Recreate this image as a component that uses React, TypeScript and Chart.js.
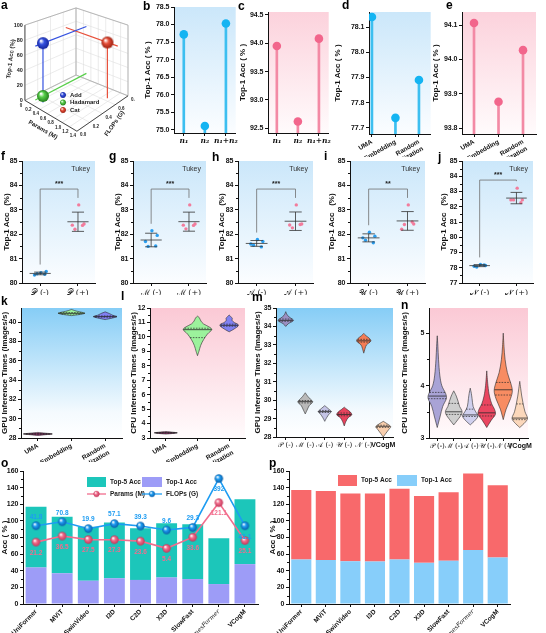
import React, { useEffect, useRef } from "react";
import { Chart, registerables } from "chart.js";

Chart.register(...registerables);

const SANS = "'Liberation Sans', Arial, sans-serif";
const SERIF = "'DejaVu Serif', 'Liberation Serif', serif";
const INK = "#111111";

// ---------- a: fusion strategies ----------
const fusionNames = ["Add", "Hadamard", "Cat"];
const fusionParams = [0.28, 0.28, 1.12];
const fusionFlops = [0.12, 0.12, 0.64];
const fusionAcc = [77.7, 8.5, 76.5];
const paramTicks3d = [0, 0.2, 0.4, 0.6, 0.8, 1.0, 1.2, 1.4];
const flopTicks3d = [0, 0.2, 0.4, 0.6, 0.8];
const accTicks3d = [0, 20, 40, 60, 80, 100];

// ---------- b, c: number of branches ----------
const branchLabels = ["n₁", "n₂", "n₁+n₂"];
const branchK = [77.72, 75.11, 78.03];
const branchS = [93.95, 92.62, 94.08];
const branchTicksK = [75.0, 75.5, 76.0, 76.5, 77.0, 77.5, 78.0, 78.5];
const branchTicksS = [92.5, 93.0, 93.5, 94.0, 94.5];

// ---------- d, e: initialisation ----------
const initLabels = ["UMA", "Embedding", ["Random", "Initialization"]];
const initK = [78.14, 77.74, 77.89];
const initS = [94.106, 93.877, 94.027];
const initTicksK = [77.7, 77.8, 77.9, 78.0, 78.1];
const initTicksS = [93.8, 93.9, 94.0, 94.1];

// ---------- f–j: module ablations (five runs each) ----------
const ablationNames = ["𝒫", "ℳ", "𝒜", "𝒰", "𝒩"];
const ablationWithout = [
  [80.42, 80.47, 80.33, 80.38, 80.36],
  [82.14, 81.95, 81.7, 81.5, 81.52],
  [81.78, 81.7, 81.6, 81.55, 81.48],
  [82.08, 81.92, 81.85, 81.75, 81.65],
  [78.22, 78.15, 78.1, 78.05, 78.18],
];
const ablationWith = [
  [83.2, 82.42, 82.37, 82.2, 82.36],
  [83.2, 82.42, 82.37, 82.22, 82.36],
  [83.2, 82.42, 82.38, 82.26, 82.4],
  [83.2, 82.42, 82.2, 82.4, 82.5],
  [83.22, 82.45, 82.45, 82.45, 82.27],
];
const ablationStars = ["***", "***", "***", "**", "***"];
const ablationBracket = [83.85, 83.85, 83.85, 83.85, 83.75];
const ablationTicks = [80, 81, 82, 83, 84, 85];
const ablationTicksJ = [77, 78, 79, 80, 81, 82, 83, 84, 85];

// ---------- k, l: inference speed per initialisation ----------
const speedInitLabels = ["UMA", "Embedding", ["Random", "Initialization"]];
const gpuInitShapes = [
  [[28.26, 0], [28.34, 0.5], [28.42, 0.95], [28.5, 0.5], [28.58, 0]],
  [[40.66, 0], [40.78, 0.55], [40.9, 0.88], [41.0, 0.7], [41.14, 0.3], [41.3, 0]],
  [[40.25, 0], [40.42, 0.5], [40.56, 0.78], [40.7, 0.5], [40.86, 0.3], [41.05, 0]],
];
const gpuInitQuartiles = [[28.39, 28.42, 28.45], [40.82, 40.9, 40.97], [40.5, 40.56, 40.63]];
const cpuInitShapes = [
  [[3.27, 0], [3.32, 0.55], [3.36, 0.8], [3.4, 0.5], [3.45, 0]],
  [[8.7, 0], [9.0, 0.1], [9.4, 0.22], [9.8, 0.42], [10.2, 0.7], [10.5, 1.0], [10.7, 0.8], [10.9, 0.42], [11.1, 0.24], [11.3, 0.14], [11.45, 0]],
  [[10.35, 0], [10.55, 0.35], [10.75, 0.63], [10.88, 0.6], [11.0, 0.35], [11.15, 0.2], [11.28, 0.22], [11.42, 0.1], [11.52, 0]],
];
const cpuInitQuartiles = [[3.34, 3.36, 3.38], [9.95, 10.5, 10.6], [10.74, 10.8, 10.88]];
const gpuInitTicks = [28, 30, 32, 34, 36, 38, 40];
const cpuInitTicks = [3, 4, 5, 6, 7, 8, 9, 10, 11, 12];

// ---------- m, n: inference speed per ablation ----------
const speedAblLabels = ["𝒫 (-)", "ℳ (-)", "𝒜 (-)", "𝒰 (-)", "𝒩 (-)", "VCogM"];
const gpuAblShapes = [
  [[34.0, 0], [34.15, 0.3], [34.28, 0.8], [34.36, 0.85], [34.46, 0.55], [34.6, 0.2], [34.8, 0]],
  [[29.25, 0], [29.45, 0.2], [29.7, 0.45], [29.9, 0.85], [30.05, 0.6], [30.2, 0.3], [30.4, 0]],
  [[28.85, 0], [29.05, 0.22], [29.25, 0.5], [29.38, 0.75], [29.52, 0.45], [29.7, 0]],
  [[28.6, 0], [28.85, 0.2], [29.05, 0.45], [29.2, 0.85], [29.35, 0.7], [29.5, 0.3], [29.62, 0]],
  [[32.55, 0], [32.8, 0.15], [33.0, 0.32], [33.2, 0.8], [33.35, 0.65], [33.5, 0.25], [33.62, 0]],
  [[28.0, 0], [28.2, 0.3], [28.42, 0.65], [28.56, 0.85], [28.7, 0.5], [28.85, 0]],
];
const gpuAblQuartiles = [
  [34.28, 34.33, 34.4], [29.85, 29.92, 29.98], [29.33, 29.38, 29.44],
  [29.15, 29.22, 29.3], [33.15, 33.22, 33.3], [28.52, 28.58, 28.64],
];
const cpuAblShapes = [
  [[3.2, 0], [3.4, 0.3], [3.6, 0.6], [3.75, 1], [3.85, 0.92], [4.0, 0.5], [4.2, 0.28], [4.5, 0.14], [4.75, 0.07], [4.95, 0]],
  [[3.25, 0], [3.35, 0.45], [3.45, 0.85], [3.52, 0.9], [3.6, 0.65], [3.7, 0.48], [3.8, 0.28], [3.9, 0]],
  [[3.25, 0], [3.34, 0.55], [3.42, 0.85], [3.5, 0.6], [3.6, 0.32], [3.75, 0.2], [3.85, 0.12], [3.95, 0]],
  [[3.2, 0], [3.34, 0.5], [3.45, 0.95], [3.55, 0.85], [3.65, 0.55], [3.8, 0.3], [4.0, 0.13], [4.28, 0]],
  [[3.35, 0], [3.55, 0.32], [3.75, 0.8], [3.9, 1], [4.05, 0.82], [4.25, 0.45], [4.5, 0.2], [4.75, 0.08], [5.0, 0]],
  [[3.2, 0], [3.3, 0.6], [3.38, 0.85], [3.5, 0.58], [3.65, 0.38], [3.8, 0.22], [3.95, 0.1], [4.08, 0]],
];
const cpuAblQuartiles = [
  [3.75, 3.8, 3.87], [3.45, 3.5, 3.66], [3.41, 3.44, 3.55],
  [3.42, 3.48, 3.63], [3.82, 3.92, 4.06], [3.35, 3.38, 3.65],
];
const gpuAblTicks = [28, 29, 30, 31, 32, 33, 34, 35];
const cpuAblTicks = [3, 4, 5];

// ---------- o, p: comparison with video backbones ----------
const models = ["UniFormer", "MViT", "SwinVideo", "I3D", "C2D", "X3D", "SlowFast", "TimesFormer", "VCogM"];
const oTop1 = [44, 37, 28, 31, 29, 32, 30, 24, 48];
const oTop5 = [73, 68, 65, 67, 62, 65, 66, 55, 78];
const oParams = [21.2, 36.5, 27.5, 27.3, 23.6, 5.4, 33.6, 121.1, 25.1];
const oFlops = [41.8, 70.8, 19.9, 57.1, 39.3, 9.6, 29.3, 392, 41.1];
const pTop1 = [53.5, 53, 51.5, 51, 53.5, 49.5, 52, 65, 56];
const pTop5 = [83.5, 83, 81.5, 82, 85, 80.5, 82.5, 92, 87];
const accTicksOP = [0, 20, 40, 60, 80, 100, 120, 140, 160];

// ---------- colours ----------
const BLUE_BG = [[0, "#cbe7fa"], [1, "#fbfdff"]];
const PINK_BG = [[0, "#fcd2dc"], [1, "#fffbfc"]];
const DEEP_BLUE_BG = [[0, "#86cdf6"], [0.8, "#f4fafe"], [1, "#ffffff"]];
const DEEP_PINK_BG = [[0, "#fbc9d5"], [1, "#fffbfc"]];
const initViolinColors = ["#b2357f", "#9cf29c", "#8181f2"];
const gpuAblColors = ["#9a8fc2", "#b9b9b9", "#c4c4e6", "#e8435d", "#f47c55", "#f9cfae"];
const cpuAblColors = ["#a9a3d6", "#cfcfcf", "#d0d0ee", "#ea4660", "#f88c62", "#fbd7bb"];

// ---------- shared helpers ----------
const areaBg = {
  id: "areaBg",
  beforeDraw(chart: any, _a: any, opts: any) {
    if (!opts || !opts.colors) return;
    const { ctx, chartArea: a } = chart;
    const g = ctx.createLinearGradient(0, a.top, 0, a.bottom);
    opts.colors.forEach(([s, c]: any) => g.addColorStop(s, c));
    ctx.save();
    ctx.fillStyle = g;
    ctx.fillRect(a.left, a.top, a.right - a.left, a.bottom - a.top);
    ctx.restore();
  },
};

// short unlabelled ticks halfway between the labelled ones on the value axis
const minorTicks = {
  id: "minorTicks",
  afterDraw(chart: any, _a: any, opts: any) {
    if (!opts || !opts.on) return;
    const y = chart.scales.y;
    if (!y) return;
    const { ctx } = chart;
    const vals = y.ticks.map((t: any) => t.value);
    ctx.save();
    ctx.strokeStyle = INK;
    ctx.lineWidth = 1;
    for (let i = 0; i < vals.length - 1; i++) {
      const py = Math.round(y.getPixelForValue((vals[i] + vals[i + 1]) / 2)) + 0.5;
      ctx.beginPath();
      ctx.moveTo(y.right - 2, py);
      ctx.lineTo(y.right, py);
      ctx.stroke();
    }
    ctx.restore();
  },
};
Chart.register(areaBg, minorTicks);

type Rect = [number, number, number, number];
type Area = [number, number, number, number];

function frame(rect: Rect, area: Area) {
  const [cl, ct, cw, ch] = rect;
  const [al, at, ar, ab] = area;
  return {
    padding: { left: 0, top: at - ct, right: cl + cw - ar, bottom: 0 },
    yWidth: al - cl,
    xHeight: ct + ch - ab,
  };
}

const tickFont = { family: SANS, size: 7, weight: "bold" };
const titleFont = { family: SANS, size: 8, weight: "bold" };

function axisLook() {
  return {
    border: { display: true, color: INK, width: 1 },
    grid: { drawOnChartArea: false, drawTicks: true, tickLength: 3, color: INK, offset: false },
  };
}

function yAxis(fr: any, tickVals: number[], min: number, max: number, digits: number, title: string, titlePad: number) {
  return {
    type: "linear",
    min,
    max,
    ...axisLook(),
    afterBuildTicks: (s: any) => {
      s.ticks = tickVals.map((value) => ({ value }));
    },
    ticks: { color: INK, font: tickFont, padding: 1.5, callback: (v: any) => Number(v).toFixed(digits) },
    title: { display: true, text: title, color: INK, font: titleFont, padding: { top: titlePad, bottom: 0 } },
    afterFit: (s: any) => {
      s.width = fr.yWidth;
      s.paddingTop = 0;
      s.paddingBottom = 0;
    },
  };
}

function xFit(fr: any) {
  return (s: any) => {
    s.height = fr.xHeight;
    s.paddingLeft = 0;
    s.paddingRight = 0;
  };
}

const baseOptions = (fr: any, bg: any, extra: any = {}, minor = false) => ({
  animation: false,
  responsive: false,
  layout: { padding: fr.padding },
  plugins: {
    legend: { display: false },
    tooltip: { enabled: false },
    areaBg: { colors: bg },
    minorTicks: { on: minor },
    ...extra,
  },
});

function sphere(color: string, dark: string, r: number) {
  const c = document.createElement("canvas");
  const s = Math.ceil(r * 2 + 2);
  c.width = s;
  c.height = s;
  const g = c.getContext("2d")!;
  const m = s / 2;
  const grad = g.createRadialGradient(m - r * 0.35, m - r * 0.4, r * 0.08, m, m, r);
  grad.addColorStop(0, "#ffffff");
  grad.addColorStop(0.4, color);
  grad.addColorStop(1, dark);
  g.fillStyle = grad;
  g.beginPath();
  g.arc(m, m, r, 0, Math.PI * 2);
  g.fill();
  return c;
}

// ---------- a: 3-D scatter built on a pixel-space scatter chart ----------
const FLOOR = [[20, 103], [78, 137], [135, 98], [77, 75]];
const CEIL = [[20, 20], [78, 40], [135, 20], [77, 1]];
const P_MAX = 1.4;
const F_MAX = 0.8;
const A_MAX = 100;
const FUSION_COLORS = ["#3552e0", "#58cf4a", "#e8503a"];
const FUSION_DARK = ["#16259a", "#247d1c", "#992010"];
const FUSION_GUIDE = ["f", "f", "p"];
const FUSION_DROP = [true, false, true];

function project(p: number, f: number, a: number) {
  const u = p / P_MAX;
  const v = f / F_MAX;
  const w = a / A_MAX;
  const bil = (c: number[][]) =>
    [0, 1].map((k) => (1 - u) * (1 - v) * c[0][k] + u * (1 - v) * c[1][k] + u * v * c[2][k] + (1 - u) * v * c[3][k]);
  const lo = bil(FLOOR);
  const hi = bil(CEIL);
  return { x: lo[0] + (hi[0] - lo[0]) * w, y: lo[1] + (hi[1] - lo[1]) * w };
}

const frame3d = {
  id: "frame3d",
  beforeDatasetsDraw(chart: any) {
    const { ctx, scales } = chart;
    const P = (p: number, f: number, a: number) => {
      const q = project(p, f, a);
      return [scales.x.getPixelForValue(q.x), scales.y.getPixelForValue(q.y)];
    };
    const seg = (a: number[], b: number[], color: string, w: number) => {
      ctx.strokeStyle = color;
      ctx.lineWidth = w;
      ctx.beginPath();
      ctx.moveTo(a[0], a[1]);
      ctx.lineTo(b[0], b[1]);
      ctx.stroke();
    };
    ctx.save();
    const grid = "#dedede";
    accTicks3d.forEach((a) => {
      seg(P(0, 0, a), P(0, F_MAX, a), grid, 0.6);
      seg(P(0, F_MAX, a), P(P_MAX, F_MAX, a), grid, 0.6);
    });
    flopTicks3d.forEach((f) => {
      seg(P(0, f, 0), P(0, f, A_MAX), grid, 0.6);
      seg(P(0, f, 0), P(P_MAX, f, 0), grid, 0.6);
    });
    paramTicks3d.forEach((p) => {
      seg(P(p, F_MAX, 0), P(p, F_MAX, A_MAX), grid, 0.6);
      seg(P(p, 0, 0), P(p, F_MAX, 0), grid, 0.6);
    });
    const edge = "#a8a8a8";
    seg(P(0, F_MAX, 0), P(0, F_MAX, A_MAX), edge, 0.8);
    seg(P(P_MAX, F_MAX, 0), P(P_MAX, F_MAX, A_MAX), edge, 0.8);
    seg(P(0, 0, A_MAX), P(0, F_MAX, A_MAX), edge, 0.8);
    seg(P(0, F_MAX, A_MAX), P(P_MAX, F_MAX, A_MAX), edge, 0.8);
    seg(P(0, 0, 0), P(0, F_MAX, 0), edge, 0.8);
    seg(P(0, F_MAX, 0), P(P_MAX, F_MAX, 0), edge, 0.8);
    seg(P(0, 0, 0), P(0, 0, A_MAX), "#333", 0.9);
    seg(P(0, 0, 0), P(P_MAX, 0, 0), "#333", 0.9);
    seg(P(P_MAX, 0, 0), P(P_MAX, F_MAX, 0), "#333", 0.9);

    ctx.fillStyle = "#222";
    ctx.font = `bold 5.5px ${SANS}`;
    ctx.textAlign = "right";
    ctx.textBaseline = "middle";
    accTicks3d.forEach((a) => {
      const q = P(0, 0, a);
      ctx.fillText(String(a), q[0] - 2, q[1]);
    });
    ctx.font = `bold 4.5px ${SANS}`;
    ctx.textAlign = "center";
    paramTicks3d.forEach((p) => {
      const q = P(p, 0, 0);
      ctx.fillText(p === 0 ? "0" : p.toFixed(1), q[0] - 4, q[1] + 5);
    });
    ctx.textAlign = "left";
    flopTicks3d.forEach((f) => {
      const q = P(P_MAX, f, 0);
      ctx.fillText(f.toFixed(1), q[0] + 3, q[1] + 4);
    });
    ctx.font = `bold 6px ${SANS}`;
    ctx.textAlign = "center";
    const title = (t: string, x: number, y: number, rot: number) => {
      ctx.save();
      ctx.translate(x, y);
      ctx.rotate(rot);
      ctx.fillText(t, 0, 0);
      ctx.restore();
    };
    const l = P(0, 0, A_MAX * 0.55);
    title("Top-1 Acc (%)", l[0] - 14, l[1], -Math.PI / 2 + 0.12);
    const pm = P(P_MAX * 0.5, 0, 0);
    title("Params (M)", pm[0] - 8, pm[1] + 14, 0.52);
    const fm = P(P_MAX, F_MAX * 0.5, 0);
    title("FLOPs (G)", fm[0] + 12, fm[1] + 10, -0.95);
    ctx.restore();
  },
  afterDraw(chart: any, _a: any, opts: any) {
    const { ctx } = chart;
    ctx.save();
    ctx.font = `bold 6px ${SANS}`;
    ctx.fillStyle = "#222";
    ctx.textBaseline = "middle";
    ctx.textAlign = "left";
    fusionNames.forEach((name, i) => {
      const y = opts.legendY + i * 7.5;
      const img = opts.balls[i];
      ctx.drawImage(img, opts.legendX - 3.5, y - 3.5, 7, 7);
      ctx.fillText(name, opts.legendX + 7, y);
    });
    ctx.restore();
  },
};

function fusionChart() {
  const balls = fusionNames.map((_, i) => sphere(FUSION_COLORS[i], FUSION_DARK[i], 6));
  const sets: any[] = [];
  fusionNames.forEach((_, i) => {
    const p = fusionParams[i];
    const f = fusionFlops[i];
    const a = fusionAcc[i];
    const along = FUSION_GUIDE[i] === "f" ? [project(p, 0, a), project(p, F_MAX, a)] : [project(0, f, a), project(P_MAX, f, a)];
    sets.push({ data: along, showLine: true, borderColor: FUSION_COLORS[i], borderWidth: 1.2, pointRadius: 0, order: 2 });
    if (FUSION_DROP[i]) {
      sets.push({ data: [project(p, f, 0), project(p, f, a)], showLine: true, borderColor: FUSION_COLORS[i], borderWidth: 1.2, pointRadius: 0, order: 2 });
    }
  });
  fusionNames.forEach((_, i) => {
    sets.push({ data: [project(fusionParams[i], fusionFlops[i], fusionAcc[i])], pointStyle: balls[i], pointRadius: 6, order: 0 });
  });
  return {
    type: "scatter",
    data: { datasets: sets },
    options: {
      animation: false,
      responsive: false,
      layout: { padding: 0 },
      plugins: { legend: { display: false }, tooltip: { enabled: false }, frame3d: { balls, legendX: 63, legendY: 95 } },
      scales: {
        x: { type: "linear", min: 0, max: 135, display: false },
        y: { type: "linear", min: 0, max: 150, reverse: true, display: false },
      },
    },
    plugins: [frame3d],
  };
}

// ---------- b–e: lollipop panels ----------
function lollipopChart(rect: Rect, area: Area, o: any) {
  const fr = frame(rect, area);
  const pts = o.values.map((y: number, x: number) => ({ x, y }));
  return {
    type: "scatter",
    data: {
      datasets: [
        { type: "scatter", data: pts, pointRadius: 4.3, pointBackgroundColor: o.dot, pointBorderWidth: 0, order: 0 },
        { type: "bar", data: pts, backgroundColor: o.stem, barThickness: 2, order: 1 },
      ],
    },
    options: {
      ...baseOptions(fr, o.bg),
      scales: {
        x: {
          type: "linear",
          min: o.xMin,
          max: o.xMax,
          offset: false,
          ...axisLook(),
          afterBuildTicks: (s: any) => {
            s.ticks = o.labels.map((_: any, i: number) => ({ value: i }));
          },
          ticks: {
            color: INK,
            font: o.xFont,
            padding: 1,
            autoSkip: false,
            minRotation: o.rotate,
            maxRotation: o.rotate,
            callback: (v: any) => o.labels[v],
          },
          afterFit: xFit(fr),
        },
        y: yAxis(fr, o.ticks, o.min, o.max, 1, "Top-1 Acc ( % )", o.titlePad),
      },
    },
  };
}

// ---------- f–j: mean ± SD with Tukey bracket ----------
const JITTER = [0.02, 0.16, -0.15, -0.08, 0.12];
const meanOf = (v: number[]) => v.reduce((s, x) => s + x, 0) / v.length;
const sdOf = (v: number[]) => {
  const m = meanOf(v);
  return Math.sqrt(v.reduce((s, x) => s + (x - m) * (x - m), 0) / (v.length - 1));
};

const tukeyPlugin = {
  id: "tukey",
  afterDatasetsDraw(chart: any, _a: any, opts: any) {
    const { ctx, scales, chartArea } = chart;
    const { x, y } = scales;
    const line = (x0: number, y0: number, x1: number, y1: number) => {
      ctx.beginPath();
      ctx.moveTo(x0, y0);
      ctx.lineTo(x1, y1);
      ctx.stroke();
    };
    ctx.save();
    ctx.strokeStyle = "#333";
    ctx.lineWidth = 0.8;
    const tops: number[] = [];
    chart.data.datasets.forEach((ds: any, g: number) => {
      const vals = ds.data.map((p: any) => p.y);
      const m = meanOf(vals);
      const sd = sdOf(vals);
      const cx = x.getPixelForValue(g);
      const half = x.getPixelForValue(g + 0.28) - cx;
      const cap = x.getPixelForValue(g + 0.16) - cx;
      const ym = y.getPixelForValue(m);
      const yt = y.getPixelForValue(m + sd);
      const yb = y.getPixelForValue(m - sd);
      line(cx - half, ym, cx + half, ym);
      line(cx, yt, cx, yb);
      line(cx - cap, yt, cx + cap, yt);
      line(cx - cap, yb, cx + cap, yb);
      tops.push(Math.min(yt, y.getPixelForValue(Math.max(...vals))));
    });
    const by = y.getPixelForValue(opts.bracketY);
    const x0 = x.getPixelForValue(0);
    const x1 = x.getPixelForValue(1);
    ctx.strokeStyle = "#6f6f6f";
    ctx.beginPath();
    ctx.moveTo(x0, tops[0] - 7);
    ctx.lineTo(x0, by);
    ctx.lineTo(x1, by);
    ctx.lineTo(x1, tops[1] - 7);
    ctx.stroke();
    ctx.fillStyle = "#222";
    ctx.font = `bold 7px ${SANS}`;
    ctx.textAlign = "center";
    ctx.textBaseline = "bottom";
    ctx.fillText(opts.stars, (x0 + x1) / 2, by - 1.5);
    ctx.font = `7px ${SANS}`;
    ctx.textAlign = "right";
    ctx.textBaseline = "middle";
    ctx.fillStyle = "#333";
    ctx.fillText("Tukey", chartArea.right - 5, chartArea.top + 8);
    ctx.restore();
  },
};

function tukeyChart(rect: Rect, area: Area, k: number, ticks: number[], titlePad: number) {
  const fr = frame(rect, area);
  const groups = [ablationWithout[k], ablationWith[k]];
  const name = ablationNames[k];
  return {
    type: "scatter",
    data: {
      datasets: groups.map((vals, g) => ({
        data: vals.map((v, i) => ({ x: g + JITTER[i], y: v })),
        pointRadius: 1.7,
        pointBorderWidth: 0,
        pointBackgroundColor: g === 0 ? "#2a9ef0" : "#f27c9c",
      })),
    },
    options: {
      ...baseOptions(fr, BLUE_BG, { tukey: { bracketY: ablationBracket[k], stars: ablationStars[k] } }, true),
      scales: {
        x: {
          type: "linear",
          min: -0.48,
          max: 1.45,
          ...axisLook(),
          afterBuildTicks: (s: any) => {
            s.ticks = [{ value: 0 }, { value: 1 }];
          },
          ticks: {
            color: INK,
            font: { family: SERIF, size: 8 },
            padding: 2,
            maxRotation: 0,
            callback: (v: any) => `${name} (${v === 0 ? "-" : "+"})`,
          },
          afterFit: xFit(fr),
        },
        y: yAxis(fr, ticks, ticks[0], ticks[ticks.length - 1], 0, "Top-1 Acc   (%)", titlePad),
      },
    },
    plugins: [tukeyPlugin],
  };
}

// ---------- k–n: violins ----------
function spline(ctx: any, pts: number[][], move: boolean) {
  if (move) ctx.moveTo(pts[0][0], pts[0][1]);
  else ctx.lineTo(pts[0][0], pts[0][1]);
  for (let i = 0; i < pts.length - 1; i++) {
    const p0 = pts[Math.max(i - 1, 0)];
    const p1 = pts[i];
    const p2 = pts[i + 1];
    const p3 = pts[Math.min(i + 2, pts.length - 1)];
    const t = 1 / 6;
    ctx.bezierCurveTo(
      p1[0] + (p2[0] - p0[0]) * t, p1[1] + (p2[1] - p0[1]) * t,
      p2[0] - (p3[0] - p1[0]) * t, p2[1] - (p3[1] - p1[1]) * t,
      p2[0], p2[1]
    );
  }
}

function densityAt(shape: number[][], v: number) {
  for (let i = 0; i < shape.length - 1; i++) {
    const [a, da] = shape[i];
    const [b, db] = shape[i + 1];
    if (v >= a && v <= b) return da + ((db - da) * (v - a)) / (b - a);
  }
  return 0;
}

const violinPlugin = {
  id: "violin",
  afterDatasetsDraw(chart: any, _a: any, opts: any) {
    const { ctx, scales } = chart;
    const { x, y } = scales;
    const step = (x.right - x.left) / opts.shapes.length;
    ctx.save();
    opts.shapes.forEach((shape: number[][], i: number) => {
      const cx = x.getPixelForValue(i);
      const half = step * opts.spread;
      const right = shape.map(([v, d]) => [cx + d * half, y.getPixelForValue(v)]);
      const left = shape.slice().reverse().map(([v, d]) => [cx - d * half, y.getPixelForValue(v)]);
      ctx.beginPath();
      spline(ctx, right, true);
      spline(ctx, left, false);
      ctx.closePath();
      ctx.fillStyle = opts.colors[i];
      ctx.fill();
      ctx.strokeStyle = "#2a2a2a";
      ctx.lineWidth = 0.6;
      ctx.stroke();
      opts.quartiles[i].forEach((q: number, k: number) => {
        const w = densityAt(shape, q) * half;
        const py = y.getPixelForValue(q);
        ctx.setLineDash(k === 1 ? [] : [1.6, 1.2]);
        ctx.lineWidth = k === 1 ? 0.8 : 0.7;
        ctx.beginPath();
        ctx.moveTo(cx - w, py);
        ctx.lineTo(cx + w, py);
        ctx.stroke();
      });
      ctx.setLineDash([]);
    });
    ctx.restore();
  },
};

function violinChart(rect: Rect, area: Area, o: any) {
  const fr = frame(rect, area);
  return {
    type: "bar",
    data: { labels: o.labels, datasets: [{ data: o.labels.map(() => null) }] },
    options: {
      ...baseOptions(fr, o.bg, { violin: { shapes: o.shapes, quartiles: o.quartiles, colors: o.colors, spread: o.spread } }, true),
      scales: {
        x: {
          type: "category",
          offset: true,
          ...axisLook(),
          ticks: {
            color: INK,
            font: o.xFont,
            padding: 1,
            autoSkip: false,
            minRotation: o.rotate,
            maxRotation: o.rotate,
          },
          afterFit: xFit(fr),
        },
        y: yAxis(fr, o.ticks, o.min, o.max, 0, o.title, o.titlePad),
      },
    },
    plugins: [violinPlugin],
  };
}

// ---------- o, p: stacked accuracy bars ----------
const valueTags = {
  id: "valueTags",
  afterDatasetsDraw(chart: any, _a: any, opts: any) {
    const { ctx } = chart;
    ctx.save();
    ctx.font = `bold 6.5px ${SANS}`;
    ctx.textAlign = "center";
    ctx.textBaseline = "middle";
    opts.sets.forEach((set: any) => {
      const meta = chart.getDatasetMeta(set.index);
      const values = chart.data.datasets[set.index].data;
      ctx.fillStyle = set.color;
      meta.data.forEach((el: any, i: number) => {
        const below = set.below.includes(i);
        ctx.fillText(String(values[i]), el.x, el.y + (below ? set.dyBelow : set.dyAbove));
      });
    });
    ctx.restore();
  },
};

const boxLegend = {
  id: "boxLegend",
  afterDraw(chart: any, _a: any, opts: any) {
    const { ctx } = chart;
    ctx.save();
    ctx.font = `bold 6.5px ${SANS}`;
    ctx.textBaseline = "middle";
    ctx.textAlign = "left";
    opts.items.forEach((it: any) => {
      if (it.kind === "box") {
        ctx.fillStyle = it.color;
        ctx.fillRect(it.x, it.y - it.h / 2, it.w, it.h);
      } else {
        ctx.strokeStyle = it.color;
        ctx.lineWidth = 1.3;
        ctx.beginPath();
        ctx.moveTo(it.x, it.y);
        ctx.lineTo(it.x + it.w, it.y);
        ctx.stroke();
        ctx.drawImage(it.ball, it.x + it.w / 2 - 4, it.y - 4, 8, 8);
      }
      ctx.fillStyle = "#222";
      ctx.fillText(it.text, it.x + it.w + 4, it.y);
    });
    ctx.restore();
  },
};

function xModels(fr: any, italicIndex: number) {
  return {
    type: "category",
    stacked: true,
    offset: true,
    ...axisLook(),
    ticks: {
      color: INK,
      padding: 1,
      autoSkip: false,
      minRotation: 45,
      maxRotation: 45,
      font: (c: any) =>
        c.index === italicIndex
          ? { family: SERIF, size: 6, style: "italic", weight: "normal" }
          : { family: SANS, size: 6.5, weight: "bold" },
    },
    afterFit: xFit(fr),
  };
}

function kineticsChart(rect: Rect, area: Area) {
  const fr = frame(rect, area);
  const pinkBall = sphere("#f26d8d", "#c2385a", 4.2);
  const blueBall = sphere("#1d9cf2", "#0a5fa8", 4.2);
  const yAcc: any = yAxis(fr, accTicksOP, 0, 160, 0, "Acc ( % )", 0);
  yAcc.stacked = true;
  return {
    type: "bar",
    data: {
      labels: models,
      datasets: [
        { type: "line", label: "FLOPs (G)", data: oFlops, yAxisID: "yF", borderColor: "#1d9cf2", borderWidth: 1.6, pointStyle: blueBall, pointRadius: 4, order: 0 },
        { type: "line", label: "Params (M)", data: oParams, yAxisID: "yP", borderColor: "#f26d8d", borderWidth: 1.6, pointStyle: pinkBall, pointRadius: 4, order: 1 },
        { label: "Top-1 Acc", data: oTop1, backgroundColor: "#9d9cf7", stack: "acc", barPercentage: 0.8, categoryPercentage: 1, order: 2 },
        { label: "Top-5 Acc", data: oTop5, backgroundColor: "#1cc6ba", stack: "acc", barPercentage: 0.8, categoryPercentage: 1, order: 2 },
      ],
    },
    options: {
      ...baseOptions(fr, null, {
        valueTags: {
          sets: [
            { index: 0, color: "#1d9cf2", below: [7, 8], dyAbove: -9, dyBelow: 11 },
            { index: 1, color: "#f26d8d", below: [0, 1, 2, 3, 4, 5, 6, 7, 8], dyAbove: -9, dyBelow: 11 },
          ],
        },
        boxLegend: {
          items: [
            { kind: "box", x: 87, y: 27, w: 19, h: 10, color: "#1cc6ba", text: "Top-5 Acc" },
            { kind: "box", x: 142, y: 27, w: 20, h: 10, color: "#9d9cf7", text: "Top-1 Acc" },
            { kind: "line", x: 87, y: 39, w: 19, color: "#f26d8d", ball: pinkBall, text: "Params (M)" },
            { kind: "line", x: 142, y: 39, w: 20, color: "#1d9cf2", ball: blueBall, text: "FLOPs (G)" },
          ],
        },
      }, true),
      scales: {
        x: xModels(fr, 7),
        y: yAcc,
        yP: { type: "linear", display: false, min: -135.6, max: 201.3 },
        yF: { type: "linear", display: false, min: -539.5, max: 448.1 },
      },
    },
    plugins: [valueTags, boxLegend],
  };
}

function somethingChart(rect: Rect, area: Area) {
  const fr = frame(rect, area);
  const yAcc: any = yAxis(fr, accTicksOP, 0, 160, 0, "Acc ( % )", 0);
  yAcc.stacked = true;
  return {
    type: "bar",
    data: {
      labels: models,
      datasets: [
        { label: "Top-1 Acc", data: pTop1, backgroundColor: "#87cefa", stack: "acc", barPercentage: 0.82, categoryPercentage: 1 },
        { label: "Top-5 Acc", data: pTop5, backgroundColor: "#f8696b", stack: "acc", barPercentage: 0.82, categoryPercentage: 1 },
      ],
    },
    options: {
      ...baseOptions(fr, null, {
        boxLegend: {
          items: [
            { kind: "box", x: 70, y: 25.5, w: 19, h: 11, color: "#f8696b", text: "Top-5 Acc" },
            { kind: "box", x: 129, y: 25.5, w: 20, h: 11, color: "#87cefa", text: "Top-1 Acc" },
          ],
        },
      }, true),
      scales: { x: xModels(fr, 7), y: yAcc },
    },
    plugins: [boxLegend],
  };
}

// ---------- canvas wrapper ----------
function ChartCanvas({ rect, build }: { rect: Rect; build: () => any }) {
  const ref = useRef<HTMLCanvasElement | null>(null);
  useEffect(() => {
    const chart = new Chart(ref.current as HTMLCanvasElement, build());
    return () => chart.destroy();
  }, []);
  const [l, t, w, h] = rect;
  return (
    <canvas
      ref={ref}
      width={w}
      height={h}
      style={{ position: "absolute", left: l, top: t, width: w, height: h }}
    />
  );
}

const nFont = { family: SERIF, size: 7.5, style: "italic", weight: "bold" };
const sansTick = { family: SANS, size: 6.5, weight: "bold" };
const ablTickFont = (c: any) =>
  c.index === 5 ? { family: SANS, size: 7, weight: "bold" } : { family: SERIF, size: 7 };

const R_B: Rect = [135, 0, 105, 157];
const R_C: Rect = [238, 0, 95, 157];
const R_D: Rect = [333, 0, 102, 157];
const R_E: Rect = [431, 0, 115, 157];
const R_K: Rect = [0, 290, 127, 172];
const R_L: Rect = [125, 290, 125, 172];
const R_M: Rect = [252, 290, 145, 165];
const R_N: Rect = [400, 290, 146, 165];

const panels: { rect: Rect; build: () => any }[] = [
  { rect: [0, 0, 135, 150], build: fusionChart },
  {
    rect: R_B,
    build: () =>
      lollipopChart(R_B, [174, 7, 237, 133], {
        values: branchK, labels: branchLabels, ticks: branchTicksK, min: 74.91, max: 78.5,
        xMin: -0.465, xMax: 2.465, dot: "#14b4f2", stem: "#3dbff0", bg: BLUE_BG, rotate: 0, xFont: nFont, titlePad: 8,
      }),
  },
  {
    rect: R_C,
    build: () =>
      lollipopChart(R_C, [268, 12, 330, 133], {
        values: branchS, labels: branchLabels, ticks: branchTicksS, min: 92.417, max: 94.55,
        xMin: -0.42, xMax: 2.465, dot: "#f2668c", stem: "#f38aa5", bg: PINK_BG, rotate: 0, xFont: nFont, titlePad: 0,
      }),
  },
  {
    rect: R_D,
    build: () =>
      lollipopChart(R_D, [369, 12, 432, 134], {
        values: initK, labels: initLabels, ticks: initTicksK, min: 77.676, max: 78.16,
        xMin: -0.125, xMax: 2.5, dot: "#14b4f2", stem: "#3dbff0", bg: BLUE_BG, rotate: 30, xFont: sansTick, titlePad: 0,
      }),
  },
  {
    rect: R_E,
    build: () =>
      lollipopChart(R_E, [462, 12, 536, 134], {
        values: initS, labels: initLabels, ticks: initTicksS, min: 93.783, max: 94.138,
        xMin: -0.49, xMax: 2.53, dot: "#f2668c", stem: "#f38aa5", bg: PINK_BG, rotate: 30, xFont: sansTick, titlePad: 0,
      }),
  },
  { rect: [0, 150, 100, 145], build: () => tukeyChart([0, 150, 100, 145], [22, 161, 95, 283], 0, ablationTicks, 2) },
  { rect: [108, 150, 103, 145], build: () => tukeyChart([108, 150, 103, 145], [133, 161, 206, 283], 1, ablationTicks, 5) },
  { rect: [212, 150, 105, 145], build: () => tukeyChart([212, 150, 105, 145], [238, 161, 313, 283], 2, ablationTicks, 5) },
  { rect: [324, 150, 105, 145], build: () => tukeyChart([324, 150, 105, 145], [350, 161, 425, 283], 3, ablationTicks, 3) },
  { rect: [437, 150, 109, 145], build: () => tukeyChart([437, 150, 109, 145], [462, 161, 533, 283], 4, ablationTicksJ, 2) },
  {
    rect: R_K,
    build: () =>
      violinChart(R_K, [21, 308, 122, 438], {
        labels: speedInitLabels, shapes: gpuInitShapes, quartiles: gpuInitQuartiles, colors: initViolinColors,
        spread: 0.45, ticks: gpuInitTicks, min: 28, max: 41.45, title: "GPU Inference Times (Images/s)",
        titlePad: 0, bg: DEEP_BLUE_BG, rotate: 30, xFont: sansTick,
      }),
  },
  {
    rect: R_L,
    build: () =>
      violinChart(R_L, [150, 308, 245, 438], {
        labels: speedInitLabels, shapes: cpuInitShapes, quartiles: cpuInitQuartiles, colors: initViolinColors,
        spread: 0.45, ticks: cpuInitTicks, min: 3, max: 12, title: "CPU Inference Times (Images/s)",
        titlePad: 4, bg: DEEP_PINK_BG, rotate: 30, xFont: sansTick,
      }),
  },
  {
    rect: R_M,
    build: () =>
      violinChart(R_M, [276, 308, 393, 437], {
        labels: speedAblLabels, shapes: gpuAblShapes, quartiles: gpuAblQuartiles, colors: gpuAblColors,
        spread: 0.45, ticks: gpuAblTicks, min: 28, max: 35, title: "GPU Inference Times (Images/s)",
        titlePad: 1, bg: DEEP_BLUE_BG, rotate: 0, xFont: ablTickFont,
      }),
  },
  {
    rect: R_N,
    build: () =>
      violinChart(R_N, [429, 308, 528, 438], {
        labels: speedAblLabels, shapes: cpuAblShapes, quartiles: cpuAblQuartiles, colors: cpuAblColors,
        spread: 0.55, ticks: cpuAblTicks, min: 3, max: 5.48, title: "CPU Inference Times (Images/s)",
        titlePad: 0, bg: DEEP_PINK_BG, rotate: 0, xFont: ablTickFont,
      }),
  },
  { rect: [0, 455, 265, 178], build: () => kineticsChart([0, 455, 265, 178], [23, 471, 258, 604]) },
  { rect: [268, 455, 278, 178], build: () => somethingChart([268, 455, 278, 178], [289, 471, 510, 604]) },
];

const letters: [string, number, number][] = [
  ["a", 5, 5], ["b", 147, 6], ["c", 242, 6], ["d", 346, 5], ["e", 450, 5],
  ["f", 5, 156], ["g", 113, 156], ["h", 216, 157], ["i", 328, 156], ["j", 442, 157],
  ["k", 5, 301], ["l", 125, 296], ["m", 256, 297], ["n", 405, 305],
  ["o", 5, 463], ["p", 273, 463],
];

export default function App() {
  return (
    <div style={{ position: "absolute", left: 0, top: 0, width: 546, height: 633, background: "#fff", overflow: "hidden" }}>
      {panels.map((p, i) => (
        <ChartCanvas key={i} rect={p.rect} build={p.build} />
      ))}
      {letters.map(([t, x, y]) => (
        <span
          key={t}
          style={{
            position: "absolute", left: x - 4, top: y - 6, fontFamily: SANS, fontWeight: "bold",
            fontSize: 12, lineHeight: "12px", color: "#000",
          }}
        >
          {t}
        </span>
      ))}
    </div>
  );
}
